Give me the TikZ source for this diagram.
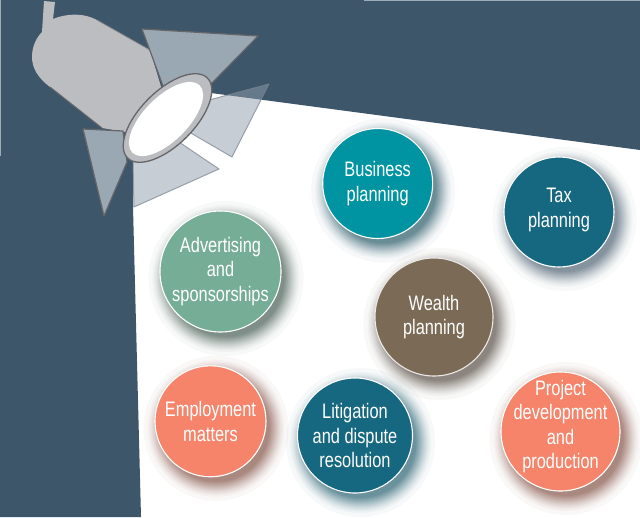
\documentclass[tikz,border=0pt]{standalone}
\usepackage{fontspec}
\setmainfont[FakeStretch=0.78]{Liberation Sans}
\definecolor{slatebg}{HTML}{3E566A}
\definecolor{lampgrey}{HTML}{BCBDC1}
\definecolor{lampline}{HTML}{666669}
\definecolor{flapdark}{HTML}{99A8B2}
\definecolor{flaplight}{HTML}{8F9DAB}
\definecolor{teala}{HTML}{0094A2}
\definecolor{tealb}{HTML}{166880}
\definecolor{sage}{HTML}{76AD96}
\definecolor{umber}{HTML}{7A6A56}
\definecolor{coral}{HTML}{F5846A}
\tikzset{
  topic/.style={circle,draw=white,line width=1.1pt,minimum size=#1,inner sep=0pt},
  topiclabel/.style={align=center,text=white,inner sep=0pt,font=\fontsize{21}{24.5}\selectfont},
  flapback/.style={fill=flapdark,draw=lampline,line width=1.2pt,line join=round},
  flaplit/.style={fill=flaplight,draw=flaplight!85!black,line width=1pt,line join=round,fill opacity=.5,draw opacity=.7},
}
\newcommand{\softshadow}[4]{% x, y, radius, colour
  \foreach \k in {0,1,...,24}{
    \fill[#4,opacity=.036] ({#1+5.5},{#2+7}) circle[radius={#3+17-sqrt(\k)*4}];
  }
}
\begin{document}
\begin{tikzpicture}[x=1pt,y=-1pt]
\useasboundingbox (0,0) rectangle (640,517);
\fill[white] (0,0) rectangle (640,517);
% dark backdrop
\fill[slatebg] (0,0) -- (640,0) -- (640,150) -- (211,93) -- (133,160) -- (133,207) -- (141,517) -- (0,517) -- cycle;
\draw[white!50!slatebg,line width=1pt] (364,0.3) -- (640,0.3);
\draw[white!50!slatebg,line width=1pt] (0.3,0) -- (0.3,156);
% shadows
\softshadow{377.7}{183.5}{55}{tealb!70!black}
\softshadow{559}{212}{55}{slatebg}
\softshadow{220.5}{271.5}{60.5}{sage!45!black}
\softshadow{434}{317}{59}{umber!60!black}
\softshadow{210.5}{421.3}{55.5}{coral!50!black}
\softshadow{355}{435.5}{57.5}{tealb!80!black}
\softshadow{560.5}{431.5}{59.5}{coral!50!black}
% lamp
\fill[lampgrey] (44,1) -- (55,2) -- (53,19) .. controls (68,13) and (84,13) .. (97,20) -- (150,50) -- (165,100) -- (125,132) -- (102,128) -- (50,87) .. controls (38,78) and (32,68) .. (32,57) .. controls (32,47) and (36,38) .. (42,32) -- cycle;
\draw[lampline,line width=1pt] (50,87) -- (102,128);
\draw[lampline!70!lampgrey,line width=.8pt] (97,20) -- (150,50);
% flaps behind the lens
\draw[flapback] (142,29) -- (258,36) -- (212,83) -- (163,86) -- cycle;
\draw[flapback] (83,129) -- (123,131) -- (127,162) -- (104,216) -- cycle;
\draw[flaplit] (209,100) -- (269,84) -- (232,157) -- (189,132) -- cycle;
\draw[flaplit] (179,142) -- (219,169) -- (134,207) -- (133,162) -- cycle;
% lens
\fill[lampgrey,draw=lampline,line width=1.3pt,rotate around={45:(167.5,118)}] (167.5,118) ellipse[x radius=56.5,y radius=27];
\fill[white,rotate around={45:(166,119)}] (166,119) ellipse[x radius=47.6,y radius=22];
% topics
\node[topic=110pt,fill=teala] (business) at (377.7,183.5) {};
\node[topiclabel] at (business) {Business\\planning};
\node[topic=110pt,fill=tealb] (tax) at (559,212) {};
\node[topiclabel] at ([yshift=2pt]tax) {Tax\\planning};
\node[topic=121pt,fill=sage] (advertising) at (220.5,271.5) {};
\node[topiclabel] at (advertising) {Advertising\\and\\sponsorships};
\node[topic=118pt,fill=umber,draw=white!85!umber] (wealth) at (434,317) {};
\node[topiclabel] at (wealth) {Wealth\\planning};
\node[topic=111pt,fill=coral] (employment) at (210.5,421.3) {};
\node[topiclabel] at (employment) {Employment\\matters};
\node[topic=115pt,fill=tealb] (litigation) at (355,435.5) {};
\node[topiclabel] at (litigation) {Litigation\\and dispute\\resolution};
\node[topic=119pt,fill=coral] (project) at (560.5,431.5) {};
\node[topiclabel] at ([yshift=5pt]project) {Project\\development\\and\\production};
\end{tikzpicture}
\end{document}
